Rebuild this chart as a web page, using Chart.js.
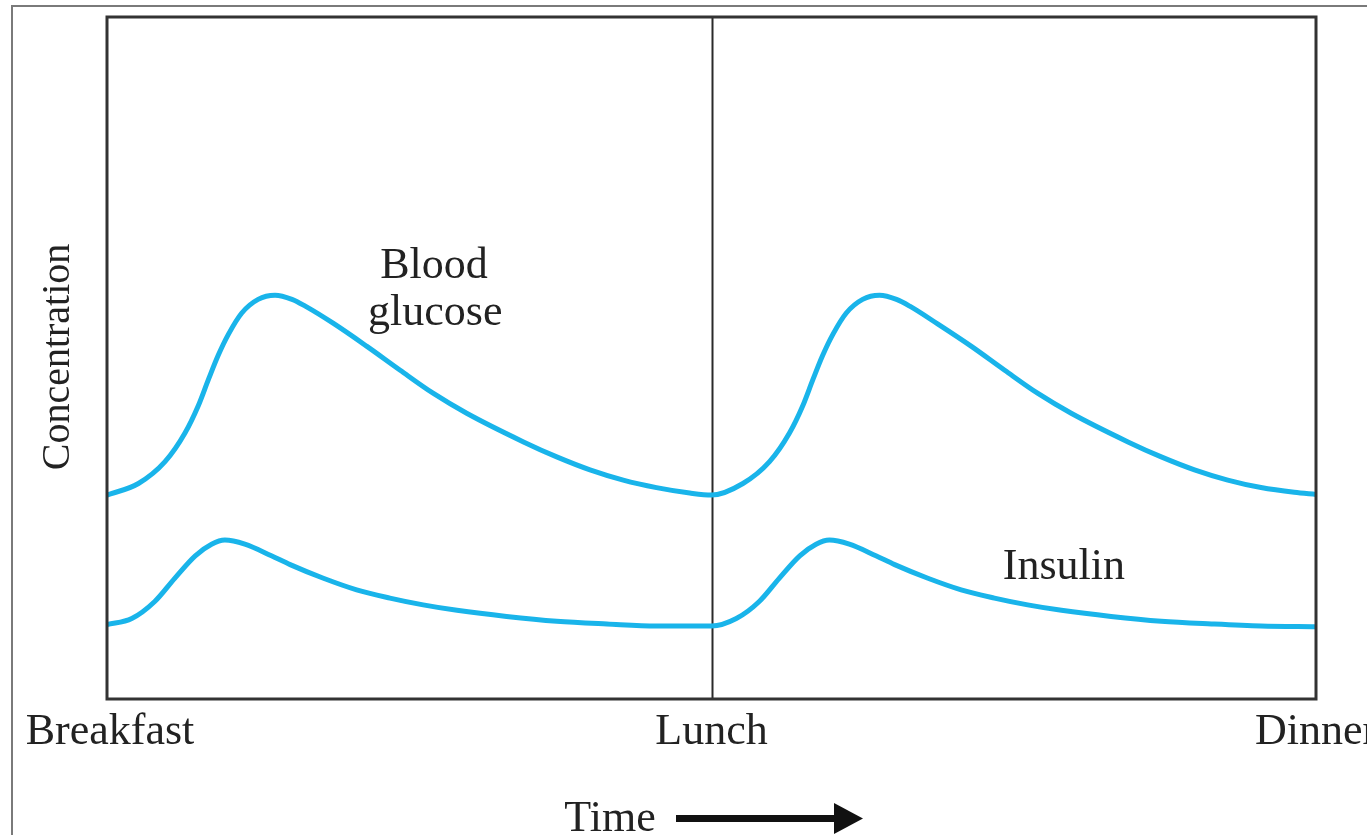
<!DOCTYPE html>
<html>
<head>
<meta charset="utf-8">
<script src="https://cdn.jsdelivr.net/npm/chart.js@4"></script>
<style>
  html, body { margin: 0; padding: 0; background: #fff; overflow: hidden; }
  #wrap { position: relative; width: 1367px; height: 835px; }
  #frame { position: absolute; left: 11px; top: 5px; right: -5px; bottom: -5px;
           border-top: 2px solid #7a7a7a; border-left: 2px solid #7a7a7a; }
</style>
</head>
<body>
<div id="wrap">
  <div id="frame"></div>
  <canvas id="mealChart"></canvas>
</div>
<script>
// Time runs 0 (breakfast) -> 1 (lunch) -> 2 (dinner)
const tickValues = [0, 1, 2];
const tickLabels = ["Breakfast", "Lunch", "Dinner"];

const glucoseTimes = [
  0, 0.052, 0.096, 0.129, 0.151, 0.168, 0.184, 0.201, 0.223, 0.250, 0.278, 0.306, 0.328,
  0.374, 0.430, 0.485, 0.540, 0.595, 0.689, 0.744, 0.799, 0.854, 0.909, 0.964,
  1.0, 1.052, 1.096, 1.129, 1.151, 1.168, 1.184, 1.201, 1.223, 1.250, 1.278, 1.306, 1.328,
  1.374, 1.430, 1.485, 1.540, 1.595, 1.689, 1.744, 1.799, 1.854, 1.909, 1.964, 2.0];
const glucoseValues = [
  29.9, 31.6, 34.8, 39.0, 43.0, 46.9, 50.4, 53.5, 56.6, 58.6, 59.2, 58.6, 57.6,
  55.1, 51.7, 48.2, 44.8, 41.9, 37.7, 35.5, 33.6, 32.1, 31.0, 30.2,
  29.9, 31.6, 34.8, 39.0, 43.0, 46.9, 50.4, 53.5, 56.6, 58.6, 59.2, 58.6, 57.6,
  55.0, 51.7, 48.2, 44.8, 41.9, 37.7, 35.5, 33.6, 32.1, 31.0, 30.3, 30.0];

const insulinTimes = [
  0, 0.041, 0.079, 0.112, 0.146, 0.173, 0.195, 0.228, 0.272, 0.303, 0.358, 0.413,
  0.468, 0.523, 0.579, 0.661, 0.744, 0.827, 0.909,
  1.0, 1.041, 1.079, 1.112, 1.146, 1.173, 1.195, 1.228, 1.272, 1.303, 1.358, 1.413,
  1.468, 1.523, 1.579, 1.661, 1.744, 1.827, 1.909, 2.0];
const insulinValues = [
  10.9, 11.8, 14.3, 17.7, 21.0, 22.7, 23.3, 22.7, 21.0, 19.7, 17.7, 16.0,
  14.8, 13.8, 13.0, 12.1, 11.4, 11.0, 10.7,
  10.7, 11.8, 14.3, 17.7, 21.0, 22.7, 23.3, 22.7, 21.0, 19.7, 17.7, 16.0,
  14.8, 13.8, 13.0, 12.1, 11.4, 11.0, 10.7, 10.6];

const lineColor = "#19b4ea";
const textColor = "#222";
const serif = "'Liberation Serif', 'DejaVu Serif', serif";

function toPoints(xs, ys) {
  return xs.map(function (x, i) { return { x: x, y: ys[i] }; });
}

// frame, lunch divider and all the text
const decorations = {
  id: "decorations",
  beforeDatasetsDraw: function (chart) {
    const ctx = chart.ctx;
    const a = chart.chartArea;
    const xs = chart.scales.x;
    ctx.save();
    ctx.strokeStyle = "#2a2a2a";
    ctx.lineWidth = 2;
    const lx = Math.round(xs.getPixelForValue(tickValues[1])) + 0.5;
    ctx.beginPath();
    ctx.moveTo(lx, a.top);
    ctx.lineTo(lx, a.bottom);
    ctx.stroke();
    ctx.restore();
  },
  afterDraw: function (chart) {
    const ctx = chart.ctx;
    const a = chart.chartArea;
    const xs = chart.scales.x;
    const ys = chart.scales.y;
    ctx.save();
    ctx.strokeStyle = "#333";
    ctx.lineWidth = 3;
    ctx.strokeRect(a.left, a.top, a.right - a.left, a.bottom - a.top);

    ctx.fillStyle = textColor;
    ctx.textAlign = "center";
    ctx.textBaseline = "middle";
    ctx.font = "44px " + serif;
    tickValues.forEach(function (v, i) {
      let px = xs.getPixelForValue(v);
      if (i === 0) px += 3;
      ctx.fillText(tickLabels[i], px, a.bottom + 33);
    });

    ctx.fillText("Blood", xs.getPixelForValue(0.541), ys.getPixelForValue(63.4));
    ctx.fillText("glucose", xs.getPixelForValue(0.543), ys.getPixelForValue(56.5));
    ctx.fillText("Insulin", xs.getPixelForValue(1.583), ys.getPixelForValue(19.3));

    // time label + arrow
    ctx.fillText("Time", 610, 819);
    ctx.fillStyle = "#111";
    ctx.fillRect(676, 815, 162, 7);
    ctx.beginPath();
    ctx.moveTo(834, 803);
    ctx.lineTo(863, 818.5);
    ctx.lineTo(834, 834);
    ctx.closePath();
    ctx.fill();

    // y axis title
    ctx.fillStyle = textColor;
    ctx.font = "40px " + serif;
    ctx.translate(58, 357);
    ctx.rotate(-Math.PI / 2);
    ctx.fillText("Concentration", 0, 0);
    ctx.restore();
  }
};

document.addEventListener("DOMContentLoaded", function () {
  const canvas = document.getElementById("mealChart");

  new Chart(canvas, {
    type: "line",
    data: {
      datasets: [
        {
          label: "Blood glucose",
          data: toPoints(glucoseTimes, glucoseValues),
          borderColor: lineColor,
          borderWidth: 5,
          pointRadius: 0,
          fill: false,
          cubicInterpolationMode: "monotone",
        },
        {
          label: "Insulin",
          data: toPoints(insulinTimes, insulinValues),
          borderColor: lineColor,
          borderWidth: 5,
          pointRadius: 0,
          fill: false,
          cubicInterpolationMode: "monotone",
        },
      ],
    },
    options: {
      responsive: true,
      maintainAspectRatio: false,
      animation: false,
      layout: { padding: { left: 107, right: 51, top: 17, bottom: 136 } },
      plugins: {
        legend: { display: false },
        tooltip: { enabled: false },
      },
      scales: {
        x: { type: "linear", min: 0, max: 2, display: false },
        y: { min: 0, max: 100, display: false },
      },
    },
    plugins: [decorations],
  });
});
</script>
</body>
</html>
